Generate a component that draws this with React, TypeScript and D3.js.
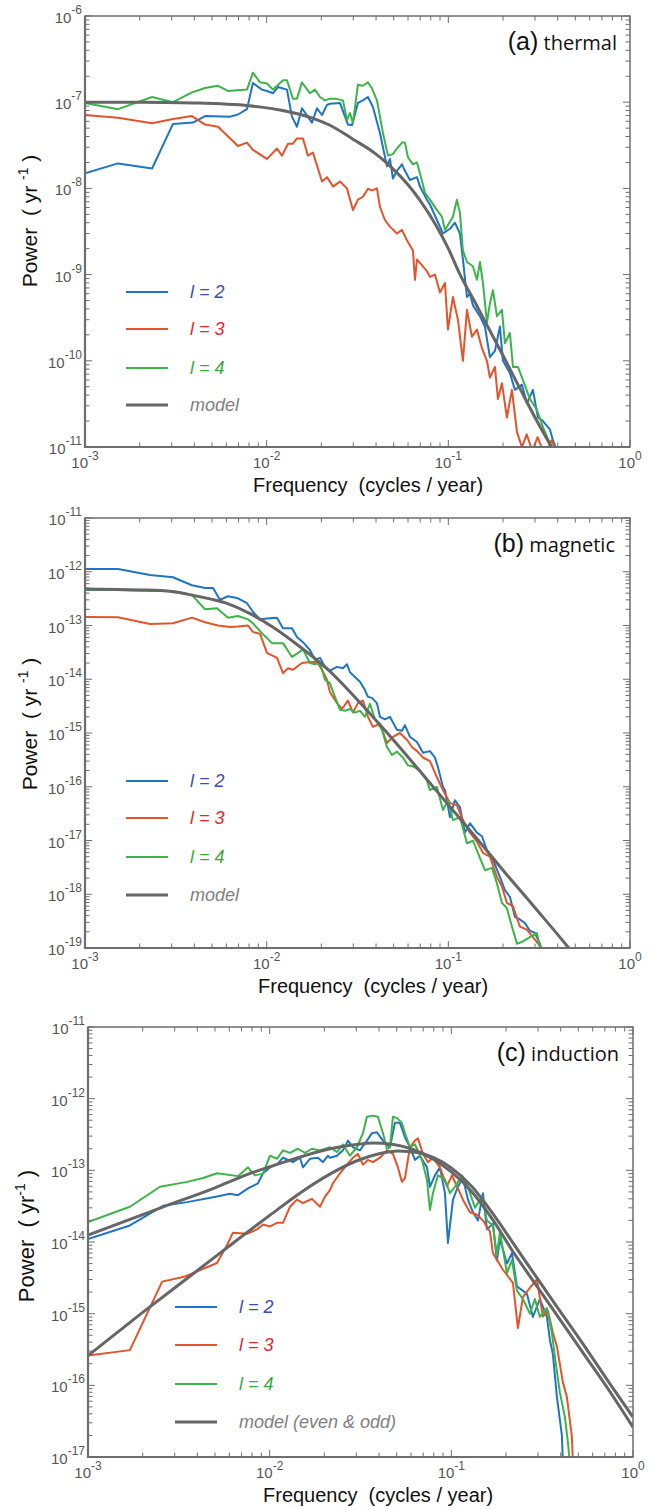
import React from "react";
import * as d3 from "d3";

type Pt = [number, number]; // [frequency (cycles/yr), power (yr^-1)]

// ---------- (a) thermal ----------
const thermalL2: Pt[] = [
  [0.001, 1.5e-8], [0.00152, 1.95e-8], [0.00234, 1.7e-8], [0.00305, 5.6e-8], [0.00393, 5.8e-8],
  [0.00458, 6.9e-8], [0.00628, 6.8e-8], [0.00695, 7.2e-8], [0.00779, 8.3e-8], [0.0084, 1.67e-7],
  [0.00942, 1.4e-7], [0.01004, 1.35e-7], [0.01083, 1.27e-7], [0.01154, 1.5e-7], [0.01293, 1.4e-7],
  [0.01378, 6.8e-8], [0.01468, 5.2e-8], [0.01564, 8.5e-8], [0.01775, 5.8e-8], [0.01892, 8.5e-8],
  [0.02016, 7.1e-8], [0.02147, 9.3e-8], [0.0223, 9.6e-8], [0.02533, 9.8e-8], [0.02698, 6.8e-8],
  [0.02802, 5.5e-8], [0.02948, 5.4e-8], [0.0318, 9.8e-8], [0.03388, 1.05e-7], [0.0361, 1.15e-7],
  [0.03846, 8.8e-8], [0.04203, 4.4e-8], [0.04593, 1.8e-8], [0.0477, 2.2e-8], [0.04955, 1.3e-8],
  [0.05212, 1.6e-8], [0.05555, 1.9e-8], [0.05768, 1.6e-8], [0.06146, 1.25e-8], [0.0672, 1.35e-8],
  [0.06979, 1.05e-8], [0.07625, 7.4e-9], [0.0792, 6.5e-9], [0.08654, 4.3e-9], [0.0934, 3.0e-9],
  [0.1021, 3.4e-9], [0.1087, 4.0e-9], [0.1158, 3.0e-9], [0.1203, 1.5e-9], [0.1266, 5.5e-10],
  [0.1315, 6.0e-10], [0.1366, 4.4e-10], [0.1493, 3.3e-10], [0.159, 2.5e-10], [0.1694, 1.1e-10],
  [0.1805, 1.3e-10], [0.1923, 2.5e-10], [0.1997, 1.0e-10], [0.2183, 7.2e-11], [0.2326, 4.6e-11],
  [0.2541, 5.3e-11], [0.2707, 3.2e-11], [0.2922, 4.6e-11], [0.3112, 2.2e-11], [0.3317, 2.0e-11],
  [0.3624, 1.6e-11], [0.3765, 1.2e-11], [0.3959, 9e-12],
];
const thermalL3: Pt[] = [
  [0.001, 7.1e-8], [0.00152, 6.6e-8], [0.00234, 5.7e-8], [0.00305, 6.4e-8], [0.00388, 6.9e-8],
  [0.00458, 5.5e-8], [0.0054, 5.2e-8], [0.00695, 3.1e-8], [0.00779, 3.4e-8], [0.0084, 2.8e-8],
  [0.01004, 2.2e-8], [0.0114, 2.9e-8], [0.01214, 2.4e-8], [0.0131, 3.3e-8], [0.01395, 3.3e-8],
  [0.01468, 3.8e-8], [0.01584, 3.8e-8], [0.01687, 2.4e-8], [0.01798, 2.6e-8], [0.02016, 1.2e-8],
  [0.02147, 1.35e-8], [0.0223, 1.2e-8], [0.02317, 1.05e-8], [0.02533, 1.2e-8], [0.02767, 1.0e-8],
  [0.02985, 5.6e-9], [0.0318, 7.4e-9], [0.03388, 8.0e-9], [0.0361, 9.9e-9], [0.03797, 9.5e-9],
  [0.04046, 1.0e-8], [0.04203, 6.1e-9], [0.04478, 4.3e-9], [0.0477, 3.6e-9], [0.05212, 3.0e-9],
  [0.05555, 3.3e-9], [0.05916, 2.5e-9], [0.06384, 1.9e-9], [0.0655, 8.7e-10], [0.0672, 1.5e-9],
  [0.07625, 1.1e-9], [0.0792, 9.4e-10], [0.08437, 1.0e-9], [0.08991, 6.2e-10], [0.09579, 8.0e-10],
  [0.0995, 2.3e-10], [0.106, 5.5e-10], [0.1129, 3.0e-10], [0.1203, 1.0e-10], [0.1266, 3.9e-10],
  [0.1349, 1.9e-10], [0.1437, 2.3e-10], [0.1531, 1.4e-10], [0.1631, 1.0e-10], [0.1694, 6.4e-11],
  [0.1805, 8.5e-11], [0.1875, 3.6e-11], [0.1972, 5.5e-11], [0.2101, 2.2e-11], [0.2239, 4.6e-11],
  [0.2385, 1.5e-11], [0.2541, 1.0e-11], [0.27, 1.4e-11], [0.29, 9e-12], [0.31, 1.3e-11],
  [0.34, 8e-12], [0.37, 1.2e-11], [0.4, 8e-12],
];
const thermalL4: Pt[] = [
  [0.001, 9.8e-8], [0.00152, 8.3e-8], [0.00234, 1.15e-7], [0.00305, 1.0e-7], [0.00388, 1.3e-7],
  [0.00458, 1.46e-7], [0.0054, 1.55e-7], [0.00612, 1.35e-7], [0.00779, 1.4e-7], [0.0084, 2.2e-7],
  [0.00919, 1.7e-7], [0.01004, 1.65e-7], [0.01083, 1.4e-7], [0.0123, 1.8e-7], [0.01293, 1.8e-7],
  [0.01395, 1.1e-7], [0.01468, 1.1e-7], [0.01564, 1.7e-7], [0.0173, 1.27e-7], [0.01845, 1.4e-7],
  [0.01965, 1.15e-7], [0.02094, 1.05e-7], [0.0223, 1.1e-7], [0.02376, 1.1e-7], [0.0263, 1.05e-7],
  [0.02767, 6.2e-8], [0.02874, 7.5e-8], [0.02985, 5.7e-8], [0.0318, 1.6e-7], [0.03388, 1.55e-7],
  [0.0361, 1.7e-7], [0.03797, 1.45e-7], [0.04046, 1.05e-7], [0.04366, 4.4e-8], [0.04652, 2.4e-8],
  [0.04955, 2.5e-8], [0.05212, 2.9e-8], [0.05555, 3.4e-8], [0.05768, 3.4e-8], [0.05992, 2.3e-8],
  [0.06384, 1.9e-8], [0.0672, 2.0e-8], [0.06979, 1.5e-8], [0.07434, 8.9e-9], [0.0792, 7.4e-9],
  [0.08654, 5.6e-9], [0.09222, 4.7e-9], [0.09579, 3.3e-9], [0.106, 4.7e-9], [0.1115, 7.4e-9],
  [0.1158, 5.2e-9], [0.1203, 1.9e-9], [0.1266, 1.4e-9], [0.1366, 1.25e-9], [0.1437, 8.7e-10],
  [0.1493, 1.4e-9], [0.155, 8.0e-10], [0.1631, 2.8e-10], [0.1694, 4.6e-10], [0.176, 6.6e-10],
  [0.1851, 3.3e-10], [0.1972, 3.9e-10], [0.2048, 1.6e-10], [0.2183, 2.1e-10], [0.2268, 8.5e-11],
  [0.2416, 8.5e-11], [0.2573, 6.0e-11], [0.2812, 3.6e-11], [0.3073, 2.7e-11], [0.3317, 1.7e-11],
  [0.3624, 1.1e-11], [0.38, 9e-12],
];
const thermalModel: Pt[] = [
  [0.001, 1.0e-7], [0.002, 1.0e-7], [0.004, 9.8e-8], [0.008, 9.1e-8], [0.013, 7.8e-8],
  [0.018, 6.5e-8], [0.0223, 5.4e-8], [0.03, 3.7e-8], [0.04, 2.5e-8], [0.048, 1.8e-8],
  [0.06, 1.1e-8], [0.07, 7.2e-9], [0.085, 3.8e-9], [0.1, 2.0e-9], [0.116, 1.0e-9],
  [0.14, 4.8e-10], [0.17, 2.2e-10], [0.2, 1.15e-10], [0.25, 4.6e-11], [0.3, 2.2e-11], [0.37, 1.0e-11],
];

// ---------- (b) magnetic ----------
const magneticL2: Pt[] = [
  [0.001, 1.12e-12], [0.00152, 1.12e-12], [0.00228, 8.7e-13], [0.00305, 7.9e-13], [0.00388, 5.6e-13],
  [0.00458, 5.0e-13], [0.00507, 5.0e-13], [0.00553, 3.0e-13], [0.00612, 3.5e-13], [0.00695, 3.2e-13],
  [0.00779, 2.6e-13], [0.0084, 1.8e-13], [0.00919, 1.3e-13], [0.01004, 1.35e-13], [0.0114, 1.4e-13],
  [0.0123, 8.9e-14], [0.01378, 8.9e-14], [0.01468, 6.1e-14], [0.01584, 4.9e-14], [0.0173, 3.5e-14],
  [0.01845, 2.3e-14], [0.01965, 2.5e-14], [0.02094, 1.7e-14], [0.0223, 1.45e-14], [0.02438, 1.7e-14],
  [0.0263, 1.6e-14], [0.02767, 1.9e-14], [0.02874, 1.35e-14], [0.03062, 1.1e-14], [0.03262, 9e-15],
  [0.03475, 6.3e-15], [0.0361, 4.7e-15], [0.03797, 4.5e-15], [0.04046, 3.6e-15], [0.04203, 2.0e-15],
  [0.04478, 1.8e-15], [0.0477, 2.0e-15], [0.05212, 1.15e-15], [0.05555, 1.1e-15], [0.05768, 1.4e-15],
  [0.06146, 8.5e-16], [0.0672, 6.8e-16], [0.07252, 4.3e-16], [0.0792, 4.6e-16], [0.08437, 3.5e-16],
  [0.08768, 2.3e-16], [0.0934, 1.0e-16], [0.09579, 8.7e-17], [0.1021, 2.7e-17], [0.1087, 5.6e-17],
  [0.1158, 4.2e-17], [0.1234, 1.4e-17], [0.1315, 2.1e-17], [0.1437, 1.4e-17], [0.1531, 1.2e-17],
  [0.1631, 6.6e-18], [0.176, 4.4e-18], [0.1923, 2.1e-18], [0.2048, 1.2e-18], [0.2183, 8.9e-19],
  [0.2326, 3.8e-19], [0.2477, 3.4e-19], [0.2641, 2.9e-19], [0.2812, 2.1e-19], [0.2996, 1.9e-19],
  [0.3192, 1.2e-19], [0.33, 8e-20],
];
const magneticL3: Pt[] = [
  [0.001, 1.44e-13], [0.00152, 1.43e-13], [0.00228, 1.07e-13], [0.00305, 1.1e-13], [0.00388, 1.4e-13],
  [0.00458, 1.15e-13], [0.0054, 1.0e-13], [0.00628, 9.4e-14], [0.00695, 9.6e-14], [0.00789, 1.0e-13],
  [0.0084, 7.6e-14], [0.00919, 7.0e-14], [0.01004, 3.1e-14], [0.0114, 2.5e-14], [0.0123, 1.3e-14],
  [0.0131, 1.6e-14], [0.01395, 1.5e-14], [0.01564, 2.0e-14], [0.0173, 2.1e-14], [0.01892, 2.1e-14],
  [0.02016, 1.5e-14], [0.02147, 9.8e-15], [0.0223, 5.8e-15], [0.02438, 3.6e-15], [0.02597, 2.8e-15],
  [0.02802, 4.0e-15], [0.02985, 2.4e-15], [0.0318, 3.6e-15], [0.03388, 4.0e-15], [0.0361, 2.0e-15],
  [0.03846, 1.3e-15], [0.04203, 1.5e-15], [0.04593, 6.5e-16], [0.04955, 8.5e-16], [0.05415, 1.0e-15],
  [0.05916, 7.5e-16], [0.06306, 5.5e-16], [0.0672, 4.6e-16], [0.07252, 3.5e-16], [0.0792, 3.0e-16],
  [0.08654, 1.5e-16], [0.0934, 8.7e-17], [0.1021, 5.0e-17], [0.1115, 4.5e-17], [0.1203, 2.4e-17],
  [0.1315, 1.4e-17], [0.1437, 9.5e-18], [0.155, 5.9e-18], [0.1694, 5.0e-18], [0.1851, 2.1e-18],
  [0.1972, 1.4e-18], [0.2101, 6.9e-19], [0.2268, 6.0e-19], [0.2477, 2.5e-19], [0.2707, 2.2e-19],
  [0.2922, 1.6e-19], [0.3192, 1.1e-19], [0.33, 8e-20],
];
const magneticL4: Pt[] = [
  [0.001, 4.6e-13], [0.00152, 4.6e-13], [0.00234, 4.4e-13], [0.00305, 4.4e-13], [0.00388, 3.7e-13],
  [0.00458, 2.0e-13], [0.00533, 2.1e-13], [0.00612, 1.4e-13], [0.00695, 1.5e-13], [0.00789, 1.3e-13],
  [0.0084, 1.1e-13], [0.00942, 7.2e-14], [0.0107, 4.7e-14], [0.0123, 4.7e-14], [0.01378, 2.6e-14],
  [0.01468, 3.0e-14], [0.01584, 3.6e-14], [0.0173, 2.0e-14], [0.01845, 1.9e-14], [0.01965, 2.0e-14],
  [0.02094, 9.8e-15], [0.0223, 8.5e-15], [0.02376, 4.7e-15], [0.02533, 2.7e-15], [0.02698, 2.6e-15],
  [0.02874, 2.8e-15], [0.03062, 2.4e-15], [0.03262, 2.6e-15], [0.03475, 2.0e-15], [0.03703, 3.5e-15],
  [0.03945, 1.8e-15], [0.04311, 1.15e-15], [0.04593, 5.5e-16], [0.04893, 3.9e-16], [0.05212, 4.5e-16],
  [0.05626, 3.5e-16], [0.05992, 2.5e-16], [0.06384, 2.4e-16], [0.06979, 2.0e-16], [0.07625, 1.3e-16],
  [0.0792, 8.7e-17], [0.08654, 9.9e-17], [0.0934, 3.7e-17], [0.0995, 5.6e-17], [0.106, 2.4e-17],
  [0.1158, 2.7e-17], [0.1266, 8.9e-18], [0.1366, 9.9e-18], [0.1455, 5.9e-18], [0.159, 2.8e-18],
  [0.1738, 3.1e-18], [0.1851, 1.6e-18], [0.1972, 6.9e-19], [0.2101, 5.5e-19], [0.2239, 2.5e-19],
  [0.2385, 1.2e-19], [0.2541, 1.3e-19], [0.2812, 1.6e-19], [0.3073, 1.9e-19], [0.3192, 1.0e-19],
  [0.33, 8e-20],
];
const magneticModel: Pt[] = [
  [0.001, 4.8e-13], [0.002, 4.6e-13], [0.003, 4.3e-13], [0.004, 3.6e-13], [0.006, 2.6e-13],
  [0.008, 1.7e-13], [0.011, 9e-14], [0.015, 4.2e-14], [0.0223, 1.4e-14], [0.03, 5e-15],
  [0.045, 1.1e-15], [0.067, 2.3e-16], [0.1, 4.6e-17], [0.14, 1.2e-17], [0.2, 2.8e-18],
  [0.3, 5.6e-19], [0.46, 1.0e-19], [0.5, 7e-20],
];

// ---------- (c) induction ----------
const inductionL2: Pt[] = [
  [0.001, 1.1e-14], [0.0017, 1.7e-14], [0.00259, 3.2e-14], [0.00351, 3.6e-14], [0.00513, 4.3e-14],
  [0.00605, 4.7e-14], [0.00669, 4.5e-14], [0.0076, 5.6e-14], [0.00862, 6.6e-14], [0.00919, 9.1e-14],
  [0.01004, 1.1e-13], [0.01097, 1.2e-13], [0.01184, 1.5e-13], [0.01343, 1.3e-13], [0.01468, 1.5e-13],
  [0.01525, 1.1e-13], [0.01667, 1.45e-13], [0.01845, 1.5e-13], [0.01965, 1.3e-13], [0.02094, 1.6e-13],
  [0.02147, 1.5e-13], [0.02346, 1.6e-13], [0.02533, 1.9e-13], [0.02698, 2.6e-13], [0.02874, 2.1e-13],
  [0.0314, 1.9e-13], [0.03431, 2.6e-13], [0.03656, 3.3e-13], [0.03895, 3.4e-13], [0.04203, 2.6e-13],
  [0.04593, 2.1e-13], [0.04893, 4.6e-13], [0.05212, 4.6e-13], [0.05555, 2.9e-13], [0.05916, 2.1e-13],
  [0.06306, 1.4e-13], [0.0672, 1.6e-13], [0.07341, 1.1e-13], [0.07625, 5.9e-14], [0.08124, 8.5e-14],
  [0.08655, 1.1e-13], [0.09222, 4.8e-14], [0.09579, 9.7e-15], [0.1021, 3.9e-14], [0.1087, 5.9e-14],
  [0.1158, 7.9e-14], [0.1234, 3.9e-14], [0.1315, 2.6e-14], [0.1401, 2.0e-14], [0.1493, 4.8e-14],
  [0.157, 1.5e-14], [0.1694, 1.8e-14], [0.1782, 5.5e-15], [0.1851, 1.1e-14], [0.2023, 5e-15],
  [0.2156, 7e-15], [0.2296, 2.4e-15], [0.2606, 1.9e-15], [0.2812, 9e-16], [0.3073, 1.6e-15],
  [0.3357, 9e-16], [0.3488, 4.3e-16], [0.3624, 2.7e-16], [0.3811, 6.9e-17], [0.4061, 2e-17],
  [0.4113, 8e-18],
];
const inductionL3: Pt[] = [
  [0.001, 2.6e-16], [0.0017, 3.1e-16], [0.00256, 2.8e-15], [0.00342, 3.3e-15], [0.00513, 5.1e-15],
  [0.00582, 9e-15], [0.00628, 1.35e-14], [0.0075, 1.3e-14], [0.00851, 1.5e-14], [0.00919, 1.75e-14],
  [0.01004, 1.65e-14], [0.01097, 1.85e-14], [0.01184, 1.85e-14], [0.01293, 3.1e-14], [0.01413, 3.9e-14],
  [0.01525, 3.5e-14], [0.0171, 4.0e-14], [0.01892, 3.1e-14], [0.02016, 4.3e-14], [0.02147, 5.3e-14],
  [0.0223, 6.6e-14], [0.02438, 9.1e-14], [0.02664, 1.2e-13], [0.02874, 1.5e-13], [0.03062, 1.7e-13],
  [0.03262, 1.2e-13], [0.03475, 1.4e-13], [0.03703, 1.3e-13], [0.04046, 1.5e-13], [0.04422, 1.9e-13],
  [0.0477, 1.7e-13], [0.05082, 1.1e-13], [0.05346, 6.9e-14], [0.05555, 7.8e-14], [0.05916, 2.1e-13],
  [0.06306, 2.6e-13], [0.06548, 2.8e-13], [0.06979, 1.7e-13], [0.07434, 1.3e-13], [0.0792, 1.5e-13],
  [0.08655, 1.1e-13], [0.09459, 6e-14], [0.1008, 8.5e-14], [0.1074, 6e-14], [0.1158, 3.9e-14],
  [0.1266, 2.6e-14], [0.1383, 2.4e-14], [0.1493, 2.0e-14], [0.1631, 1.4e-14], [0.1694, 7e-15],
  [0.1923, 4.1e-15], [0.2183, 2.7e-15], [0.2326, 6.3e-16], [0.2477, 1.7e-15], [0.2707, 2.3e-15],
  [0.2958, 3e-15], [0.3192, 9.1e-16], [0.3401, 1.1e-15], [0.3624, 5.4e-16], [0.3811, 3.5e-16],
  [0.4113, 1.1e-16], [0.4325, 6.9e-17], [0.4611, 1.9e-17], [0.467, 8e-18],
];
const inductionL4: Pt[] = [
  [0.001, 1.9e-14], [0.0017, 3.1e-14], [0.00249, 5.9e-14], [0.00351, 6.9e-14], [0.0043, 7.8e-14],
  [0.00513, 9.1e-14], [0.00669, 8.3e-14], [0.0076, 1.1e-13], [0.0083, 8.5e-14], [0.00919, 9e-14],
  [0.01004, 1.6e-13], [0.01097, 1.45e-13], [0.01184, 1.9e-13], [0.01293, 1.75e-13], [0.0143, 2.0e-13],
  [0.01564, 1.75e-13], [0.0171, 2.0e-13], [0.01892, 1.9e-13], [0.02147, 2.1e-13], [0.02346, 1.8e-13],
  [0.02533, 2.3e-13], [0.02767, 1.6e-13], [0.03023, 2.1e-13], [0.03262, 3.3e-13], [0.03431, 5.6e-13],
  [0.03703, 5.8e-13], [0.03945, 5.6e-13], [0.04203, 3.3e-13], [0.04422, 2.0e-13], [0.04593, 2.1e-13],
  [0.0477, 5.6e-13], [0.05019, 5.4e-13], [0.05346, 4.6e-13], [0.05555, 3.3e-13], [0.05916, 2.1e-13],
  [0.06306, 2.3e-13], [0.06887, 1.4e-13], [0.07341, 7.4e-14], [0.07625, 2.8e-14], [0.0792, 4.8e-14],
  [0.08437, 8.5e-14], [0.09222, 7.4e-14], [0.09824, 4.8e-14], [0.1047, 5.9e-14], [0.1144, 8.5e-14],
  [0.1234, 5.9e-14], [0.1349, 3.0e-14], [0.1474, 4.3e-14], [0.157, 2.0e-14], [0.1694, 1.7e-14],
  [0.1782, 6.5e-15], [0.1851, 1.4e-14], [0.2023, 3.7e-15], [0.2156, 5.6e-15], [0.2296, 2.1e-15],
  [0.2477, 1.6e-15], [0.2707, 1e-15], [0.2884, 1.6e-15], [0.3073, 9e-16], [0.3357, 1.2e-15],
  [0.3577, 5.4e-16], [0.3716, 2.5e-16], [0.3959, 7.9e-17], [0.4218, 3.6e-17], [0.4383, 1.6e-17],
  [0.4495, 8e-18],
];
const inductionModelEven: Pt[] = [
  [0.001, 1.25e-14], [0.0026, 3.1e-14], [0.005, 5.7e-14], [0.0075, 8.7e-14], [0.012, 1.3e-13],
  [0.0215, 2.0e-13], [0.03, 2.3e-13], [0.037, 2.4e-13], [0.048, 2.3e-13], [0.06, 2.0e-13],
  [0.08, 1.42e-13], [0.1, 9.5e-14], [0.13, 5.0e-14], [0.17, 2.0e-14], [0.215, 7.8e-15],
  [0.3, 2.3e-15], [0.4, 8e-16], [0.55, 2.5e-16], [0.75, 8e-17], [1, 2.6e-17],
];
const inductionModelOdd: Pt[] = [
  [0.001, 2.6e-16], [0.002, 1.04e-15], [0.004, 4.0e-15], [0.0063, 9.7e-15], [0.01, 2.35e-14],
  [0.015, 5.0e-14], [0.0217, 9e-14], [0.03, 1.35e-13], [0.04, 1.7e-13], [0.051, 1.86e-13],
  [0.065, 1.77e-13], [0.08, 1.5e-13], [0.1, 1.08e-13], [0.13, 5.9e-14], [0.17, 2.45e-14],
  [0.23, 8e-15], [0.3, 3e-15], [0.4, 1.05e-15], [0.55, 3.3e-16], [0.75, 1.03e-16], [1, 3.6e-17],
];

const BLUE = "#1f74c6";
const RED = "#e2542b";
const GREEN = "#3cb449";
const GREY = "#666666";
const AXIS = "#6e6e6e";
const LABEL = "#555555";

interface PanelProps {
  id: string;
  left: number; right: number; top: number; bottom: number;
  yDomain: [number, number];
  l2: Pt[]; l3: Pt[]; l4: Pt[];
  models: Pt[][];
  letter: string; word: string; titleX: number;
  legendX: number; legendY: number[]; modelText: string;
  yLabelX: number; yLabelY: number; yLabelSize: number; supGap: string;
  xLabelX: number;
}

const Panel = (p: PanelProps) => {
  const x = d3.scaleLog().domain([1e-3, 1]).range([p.left, p.right]);
  const y = d3.scaleLog().domain(p.yDomain).range([p.bottom, p.top]);
  const line = d3.line<Pt>().x(d => x(d[0])).y(d => y(d[1]));
  const smooth = d3.line<Pt>().x(d => x(d[0])).y(d => y(d[1])).curve(d3.curveMonotoneX);
  const isDec = (v: number) => Math.abs(Math.log10(v) - Math.round(Math.log10(v))) < 1e-6;
  const xt = x.ticks();
  const yt = y.ticks();
  const legendItems = [
    { c: BLUE, t: "l = 2", tc: "#3a4cb3", w: 2 },
    { c: RED, t: "l = 3", tc: "#e0262b", w: 2 },
    { c: GREEN, t: "l = 4", tc: "#3aa83c", w: 2 },
    { c: GREY, t: p.modelText, tc: "#808080", w: 3 },
  ];
  return (
    <g>
      <defs>
        <clipPath id={p.id}>
          <rect x={p.left} y={p.top} width={p.right - p.left} height={p.bottom - p.top} />
        </clipPath>
      </defs>
      <g clipPath={`url(#${p.id})`} fill="none" strokeLinejoin="round">
        <path d={line(p.l2) || ""} stroke={BLUE} strokeWidth={2} />
        <path d={line(p.l3) || ""} stroke={RED} strokeWidth={2} />
        <path d={line(p.l4) || ""} stroke={GREEN} strokeWidth={2} />
        {p.models.map((m, i) => (
          <path key={i} d={smooth(m) || ""} stroke={GREY} strokeWidth={3} />
        ))}
      </g>
      {/* frame */}
      <rect x={p.left} y={p.top} width={p.right - p.left} height={p.bottom - p.top}
        fill="none" stroke={AXIS} strokeWidth={1.5} />
      <line x1={p.left} x2={p.left} y1={p.top} y2={p.bottom + 1} stroke={AXIS} strokeWidth={2.2} />
      <line x1={p.left - 1} x2={p.right} y1={p.bottom} y2={p.bottom} stroke={AXIS} strokeWidth={2.2} />
      {xt.map((v, i) => {
        const L = isDec(v) ? 7 : 4.5;
        const xx = x(v);
        return (
          <g key={"x" + i} stroke={AXIS} strokeWidth={1}>
            <line x1={xx} x2={xx} y1={p.bottom} y2={p.bottom - L} />
            <line x1={xx} x2={xx} y1={p.top} y2={p.top + L} />
          </g>
        );
      })}
      {yt.map((v, i) => {
        const L = isDec(v) ? 7 : 4.5;
        const yy = y(v);
        return (
          <g key={"y" + i} stroke={AXIS} strokeWidth={1}>
            <line x1={p.left} x2={p.left + L} y1={yy} y2={yy} />
            <line x1={p.right} x2={p.right - L} y1={yy} y2={yy} />
          </g>
        );
      })}
      {xt.filter(isDec).map((v, i) => (
        <text key={"xl" + i} x={x(v)} y={p.bottom + 21} textAnchor="middle" fontSize={15} fill={LABEL}>
          10<tspan dy={-8} fontSize={12}>{String(Math.round(Math.log10(v)))}</tspan>
        </text>
      ))}
      {yt.filter(isDec).map((v, i) => (
        <text key={"yl" + i} x={p.left - 3} y={y(v) + 7} textAnchor="end" fontSize={15} fill={LABEL}>
          10<tspan dy={-9} fontSize={12}>{String(Math.round(Math.log10(v)))}</tspan>
        </text>
      ))}
      {/* axis labels */}
      <text x={p.xLabelX} y={p.bottom + 45} fontSize={20} fill="#111" style={{ whiteSpace: "pre" }}>
        {"Frequency  (cycles / year)"}
      </text>
      <text transform={`translate(${p.yLabelX},${p.yLabelY}) rotate(-90)`} textAnchor="middle"
        fontSize={p.yLabelSize} fill="#111" style={{ whiteSpace: "pre" }}>
        {"Power  ( yr" + p.supGap}
        <tspan dy={-9} fontSize={14}>-1</tspan>
        <tspan dy={9}>{" )"}</tspan>
      </text>
      {/* title */}
      <text x={p.titleX} y={p.top + 34} textAnchor="end" fill="#111" style={{ whiteSpace: "pre" }}>
        <tspan fontSize={25}>{p.letter}</tspan>
        <tspan fontSize={20} fontFamily="'Open Sans', sans-serif">{" " + p.word}</tspan>
      </text>
      {/* legend */}
      {legendItems.map((it, i) => (
        <g key={"lg" + i}>
          <line x1={p.legendX} x2={p.legendX + 42} y1={p.legendY[i]} y2={p.legendY[i]}
            stroke={it.c} strokeWidth={it.w} />
          <text x={p.legendX + 64} y={p.legendY[i] + 6} fontSize={18} fontStyle="italic" fill={it.tc}
            style={{ whiteSpace: "pre" }}>{it.t}</text>
        </g>
      ))}
    </g>
  );
};

const App = () => {
  return (
    <svg width={660} height={1509} viewBox="0 0 660 1509"
      style={{ position: "absolute", left: 0, top: 0, background: "#fff" }}
      fontFamily="'Liberation Sans', Arial, Helvetica, sans-serif">
      <rect x={0} y={0} width={660} height={1509} fill="#fff" />
      <Panel id="clipA" left={85} right={630} top={16} bottom={447} yDomain={[1e-11, 1e-6]}
        l2={thermalL2} l3={thermalL3} l4={thermalL4} models={[thermalModel]}
        letter="(a)" word="thermal" titleX={617}
        legendX={126} legendY={[292, 329, 368, 405]} modelText="model"
        yLabelX={37} yLabelY={221} yLabelSize={21} supGap=" " xLabelX={253} />
      <Panel id="clipB" left={85} right={630} top={518} bottom={948} yDomain={[1e-19, 1e-11]}
        l2={magneticL2} l3={magneticL3} l4={magneticL4} models={[magneticModel]}
        letter="(b)" word="magnetic" titleX={615}
        legendX={126} legendY={[781, 818, 857, 895]} modelText="model"
        yLabelX={37} yLabelY={724} yLabelSize={21} supGap=" " xLabelX={258} />
      <Panel id="clipC" left={88} right={633} top={1027} bottom={1457} yDomain={[1e-17, 1e-11]}
        l2={inductionL2} l3={inductionL3} l4={inductionL4} models={[inductionModelEven, inductionModelOdd]}
        letter="(c)" word="induction" titleX={619}
        legendX={175} legendY={[1307, 1345, 1384, 1422]} modelText="model (even & odd)"
        yLabelX={34} yLabelY={1236} yLabelSize={22} supGap="" xLabelX={263} />
    </svg>
  );
};

export default App;
